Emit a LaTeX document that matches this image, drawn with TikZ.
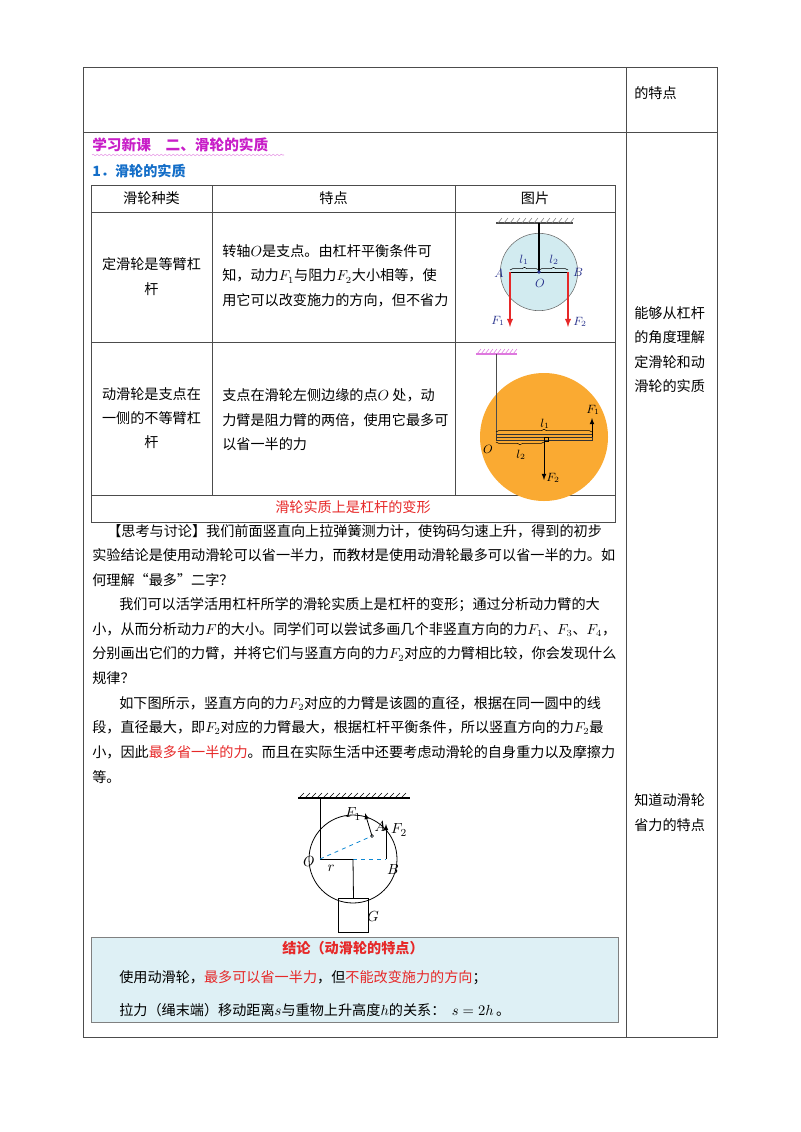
\documentclass[tikz,border=0pt]{standalone}
\usepackage{fontspec}
\setmainfont{Noto Sans CJK SC}
\usetikzlibrary{decorations.pathmorphing,decorations.pathreplacing}
\definecolor{myred}{RGB}{230,40,40}
\definecolor{mymag}{RGB}{200,30,200}
\definecolor{myblue}{RGB}{20,110,200}
\definecolor{pblue}{RGB}{210,235,240}
\definecolor{porange}{RGB}{250,170,50}
\definecolor{cbox}{RGB}{222,240,245}
\definecolor{fblue}{RGB}{40,50,140}
\begin{document}
\begin{tikzpicture}[x=0.75pt,y=-0.75pt,
  txt/.style={anchor=west,inner sep=0pt,font=\fontsize{10.6}{12}\selectfont},
  ctxt/.style={inner sep=0pt,font=\fontsize{10.6}{12}\selectfont},
  grid/.style={draw=black!70,line width=0.6pt},
  lbl/.style={inner sep=0pt,font=\fontsize{9}{10}\selectfont,text=fblue}]
\useasboundingbox (0,0) rectangle (800,1132);
% outer table
\draw[grid] (83,67) rectangle (717,1037);
\draw[grid] (83,132) -- (717,132);
\draw[grid] (626,67) -- (626,1037);
\node[txt] (r0) at (634,93) {的特点};
\foreach \t [count=\i] in {能够从杠杆,的角度理解,定滑轮和动,滑轮的实质}
  \node[txt] (ra\i) at (634,313+24.5*\i-24.5) {\t};
\node[txt] (rb1) at (634,800) {知道动滑轮};
\node[txt] (rb2) at (634,825) {省力的特点};
% headings
\node[txt,text=mymag,font=\fontsize{11}{12}\bfseries\selectfont] (h1) at (92,145) {学习新课\quad 二、滑轮的实质};
\draw[mymag!50,decorate,decoration={snake,amplitude=0.6pt,segment length=3pt}] (92,155) -- (284,155);
\node[txt,text=myblue,font=\fontsize{10.6}{12}\bfseries\selectfont] (h2) at (92,171) {1．滑轮的实质};
% inner table
\draw[grid] (91,185) rectangle (615,522);
\draw[grid] (91,212) -- (615,212);
\draw[grid] (91,342) -- (615,342);
\draw[grid] (91,495) -- (615,495);
\draw[grid] (212,185) -- (212,495);
\draw[grid] (455,185) -- (455,495);
\node[ctxt] (c1) at (151.5,198) {滑轮种类};
\node[ctxt] (c2) at (333.5,198) {特点};
\node[ctxt] (c3) at (535,198) {图片};
\node[ctxt] (a1) at (151.5,264) {定滑轮是等臂杠};
\node[ctxt] (a2) at (151.5,289) {杆};
\node[txt] (b1) at (222,251) {转轴$O$是支点。由杠杆平衡条件可};
\node[txt] (b2) at (222,276) {知，动力$F_1$与阻力$F_2$大小相等，使};
\node[txt] (b3) at (222,300) {用它可以改变施力的方向，但不省力};
\node[ctxt] (d1) at (151.5,394) {动滑轮是支点在};
\node[ctxt] (d2) at (151.5,418) {一侧的不等臂杠};
\node[ctxt] (d3) at (151.5,442) {杆};
\node[txt] (e1) at (222,395) {支点在滑轮左侧边缘的点$O$\ 处，动};
\node[txt] (e2) at (222,420) {力臂是阻力臂的两倍，使用它最多可};
\node[txt] (e3) at (222,444) {以省一半的力};
\node[ctxt,text=myred] (f1) at (353,507) {滑轮实质上是杠杆的变形};
% fixed pulley
\draw[black!70,line width=0.8pt] (496,223) -- (573,223);
\foreach \x in {498,504,...,570} \draw[black!50,line width=0.4pt] (\x,223) -- (\x+4,218);
\node[circle,draw=black!60,fill=pblue,minimum size=58,inner sep=0pt] (fp) at (539,272) {};
\draw[line width=1pt] (539,223) -- (fp.center);
\coordinate (fA) at (510,272); \coordinate (fB) at (568,272);
\draw[line width=0.5pt] (fA) -- (fB);
\fill[fblue] (fp.center) circle (1.8);
\draw[myred,line width=1.1pt,-latex] (fA) -- (510,327);
\draw[myred,line width=1.1pt,-latex] (fB) -- (568,327);
\draw[decorate,decoration={brace,amplitude=2pt},line width=0.4pt] (510,270) -- (539,270);
\draw[decorate,decoration={brace,amplitude=2pt},line width=0.4pt] (539,270) -- (568,270);
\node[lbl] (lA) at (499,273) {$A$};
\node[lbl] (lB) at (578,272) {$B$};
\node[lbl] (lO) at (540,283) {$O$};
\node[lbl] (l1) at (524,260) {$l_1$};
\node[lbl] (l2) at (554,260) {$l_2$};
\node[lbl] (lF1) at (498,321) {$F_1$};
\node[lbl] (lF2) at (580,322) {$F_2$};
% movable pulley
\draw[mymag!60,line width=0.8pt] (476,354) -- (517,354);
\foreach \x in {477,481,...,513} \draw[mymag!60,line width=0.4pt] (\x,354) -- (\x+4,349);
\node[circle,fill=porange,minimum size=96,inner sep=0pt] (mp) at (544,437) {};
\coordinate (mO) at (496,437);
\draw[black!70,line width=0.5pt] (496,354) -- (mO);
\draw[black!80,line width=0.4pt] (496,434) rectangle (592,440);
\draw[black!80,line width=0.4pt] (496,437) -- (592,437);
\draw[line width=0.6pt,-latex] (592,437) -- (592,418);
\draw[line width=0.6pt,-latex] (544,440) -- (544,480);
\draw[line width=0.4pt] (544,437) rectangle (548,441);
\draw[decorate,decoration={brace,amplitude=2pt},line width=0.4pt] (496,432) -- (592,432);
\draw[decorate,decoration={brace,amplitude=2pt,mirror},line width=0.4pt] (496,442) -- (544,442);
\node[lbl,text=black] (ml1) at (545,424) {$l_1$};
\node[lbl,text=black] (ml2) at (521,455) {$l_2$};
\node[lbl,text=black] (mO) at (488,449) {$O$};
\node[lbl,text=black] (mF1) at (593,410) {$F_1$};
\node[lbl,text=black] (mF2) at (553,478) {$F_2$};
% paragraphs
\foreach \t/\x [count=\i] in {%
{【思考与讨论】我们前面竖直向上拉弹簧测力计，使钩码匀速上升，得到的初步}/107,
{实验结论是使用动滑轮可以省一半力，而教材是使用动滑轮最多可以省一半的力。如}/92,
{何理解“最多”二字？}/92,
{我们可以活学活用杠杆所学的滑轮实质上是杠杆的变形；通过分析动力臂的大}/119,
{小，从而分析动力$F$的大小。同学们可以尝试多画几个非竖直方向的力$F_1$、$F_3$、$F_4$，}/92,
{分别画出它们的力臂，并将它们与竖直方向的力$F_2$对应的力臂相比较，你会发现什么}/92,
{规律？}/92,
{如下图所示，竖直方向的力$F_2$对应的力臂是该圆的直径，根据在同一圆中的线}/119,
{段，直径最大，即$F_2$对应的力臂最大，根据杠杆平衡条件，所以竖直方向的力$F_2$最}/92,
{小，因此\textcolor{myred}{最多省一半的力}。而且在实际生活中还要考虑动滑轮的自身重力以及摩擦力}/92,
{等。}/92}
  \node[txt] (p\i) at (\x,531+24.6*\i-24.6) {\t};
% bottom figure
\draw[line width=0.9pt] (298,798) -- (410,798);
\foreach \x in {299,305,...,405} \draw[line width=0.5pt] (\x,798) -- (\x+5,793);
\node[circle,draw,line width=0.6pt,minimum size=66,inner sep=0pt] (bp) at (353,859) {};
\coordinate (bO) at (320,859);
\coordinate (bB) at (386,859);
\coordinate (bA) at (372,836);
\draw[line width=0.6pt] (320,798) -- (bO);
\draw[line width=0.6pt] (bO) -- (bp.center);
\draw[cyan!70!blue,dashed,line width=0.6pt] (bp.center) -- (bB);
\draw[cyan!70!blue,dashed,line width=0.6pt] (bO) -- (bA);
\draw[line width=0.6pt,-latex] (bB) -- (386,824);
\draw[line width=0.6pt,-latex] (bA) -- (365,813);
\draw[line width=0.5pt] (bA) circle (1.5);
\node[rectangle,draw,line width=0.6pt,minimum width=23,minimum height=25,inner sep=0pt] (bG) at (353.5,915.5) {};
\draw[line width=0.6pt] (bp.center) -- (bG.north);
\node[inner sep=0pt,font=\fontsize{11}{12}\selectfont] (tO) at (309,862) {$O$};
\node[inner sep=0pt,font=\fontsize{11}{12}\selectfont] (tB) at (393,869) {$B$};
\node[inner sep=0pt,font=\fontsize{11}{12}\selectfont] (tr) at (331,868) {$r$};
\node[inner sep=0pt,font=\fontsize{11}{12}\selectfont] (tA) at (380,826) {$A$};
\node[inner sep=0pt,font=\fontsize{11}{12}\selectfont] (tF1) at (353,814) {$F_1$};
\node[inner sep=0pt,font=\fontsize{11}{12}\selectfont] (tF2) at (399,830) {$F_2$};
\node[inner sep=0pt,font=\fontsize{11}{12}\selectfont] (tG) at (373,916) {$G$};
% conclusion box
\draw[draw=black!50,fill=cbox,line width=0.6pt] (91,937) rectangle (618,1022);
\node[ctxt,text=myred,font=\fontsize{10.6}{12}\bfseries\selectfont] (k0) at (353,948) {结论（动滑轮的特点）};
\node[txt] (k1) at (119,978) {使用动滑轮，\textcolor{myred}{最多可以省一半力}，但\textcolor{myred}{不能改变施力的方向}；};
\node[txt] (k2) at (119,1010) {拉力（绳末端）移动距离$s$与重物上升高度$h$的关系：\ \ $s=2h$\,。};
\end{tikzpicture}
\end{document}
